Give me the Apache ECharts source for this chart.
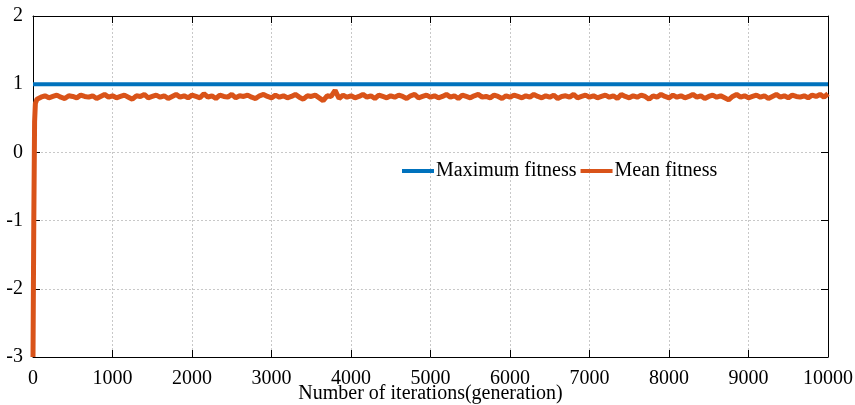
<!DOCTYPE html>
<html>
<head>
<meta charset="utf-8">
<script src="https://cdn.jsdelivr.net/npm/echarts@6/dist/echarts.min.js"></script>
<style>html,body{margin:0;padding:0;background:#fff}#c{width:855px;height:405px}</style>
</head>
<body>
<div id="c"></div>
<script>
// Data
const xTicks = [0,1000,2000,3000,4000,5000,6000,7000,8000,9000,10000];
const yTicks = [-3,-2,-1,0,1,2];
const maxIter = [0, 10000];
const maxFitness = [1, 1];
const startIter = [0, 10, 20, 30];
const startMean = [-3, -1.0, 0.45, 0.72];
const stepIter = 50; // sampling step of the noisy part (iterations 50..10000)
const meanNoisy = [
0.78,0.81,0.83,0.80,0.82,0.84,0.81,0.79,0.83,0.82,
0.80,0.84,0.82,0.81,0.83,0.79,0.82,0.85,0.81,0.83,
0.80,0.82,0.84,0.81,0.78,0.83,0.82,0.85,0.80,0.82,
0.84,0.81,0.83,0.79,0.82,0.85,0.81,0.83,0.80,0.84,
0.82,0.80,0.86,0.81,0.83,0.79,0.84,0.82,0.81,0.85,
0.80,0.83,0.82,0.84,0.81,0.79,0.83,0.85,0.82,0.80,
0.84,0.81,0.83,0.80,0.82,0.85,0.81,0.78,0.83,0.82,
0.84,0.80,0.76,0.83,0.82,0.91,0.79,0.84,0.81,0.83,
0.80,0.82,0.85,0.81,0.83,0.79,0.84,0.82,0.80,0.83,
0.81,0.84,0.82,0.79,0.83,0.85,0.80,0.82,0.84,0.81,
0.83,0.80,0.82,0.85,0.81,0.83,0.79,0.84,0.82,0.80,
0.83,0.85,0.81,0.82,0.80,0.84,0.82,0.79,0.83,0.81,
0.84,0.82,0.80,0.83,0.81,0.85,0.82,0.80,0.83,0.81,
0.84,0.79,0.82,0.83,0.81,0.85,0.80,0.82,0.84,0.81,
0.83,0.80,0.82,0.84,0.81,0.83,0.79,0.85,0.82,0.80,
0.83,0.81,0.84,0.82,0.78,0.83,0.81,0.85,0.82,0.80,
0.84,0.81,0.83,0.80,0.82,0.85,0.81,0.83,0.79,0.82,
0.84,0.81,0.83,0.80,0.77,0.82,0.85,0.81,0.83,0.80,
0.82,0.84,0.81,0.83,0.79,0.82,0.85,0.81,0.83,0.80,
0.84,0.82,0.81,0.83,0.80,0.84,0.82,0.85,0.81,0.86
];

const meanData = startIter.map((x,i)=>[x,startMean[i]])
  .concat(meanNoisy.map((v,i)=>[(i+1)*stepIter, v]));
const maxData = maxIter.map((x,i)=>[x,maxFitness[i]]);

const FONT = '"Times New Roman", "Liberation Serif", serif';
const chart = echarts.init(document.getElementById('c'), null, {renderer:'canvas'});
const gridLine = {show:true, lineStyle:{color:'#c8c8c8', width:1, type:[2,2]}};
chart.setOption({
  animation:false,
  backgroundColor:'#fff',
  grid:{left:33, right:27, top:16, bottom:48, containLabel:false, outerBoundsMode:'none'},
  legend:{
    left:397, top:156, itemGap:4, itemWidth:32, itemHeight:4, icon:'rect',
    textStyle:{fontFamily:FONT, fontSize:20, color:'#000', padding:[0,0,0,-3]},
    data:['Maximum fitness','Mean fitness']
  },
  xAxis:[{
    type:'value', min:0, max:10000, interval:1000,
    axisLine:{show:true, onZero:false, lineStyle:{color:'#000', width:1}},
    axisTick:{show:true, inside:true, length:7, lineStyle:{color:'#000'}},
    axisLabel:{fontFamily:FONT, fontSize:20, color:'#000', margin:12, formatter:v=>String(v)},
    splitLine:gridLine,
    name:'Number of iterations(generation)', nameLocation:'middle', nameGap:27,
    nameMoveOverlap:false,
    nameTextStyle:{fontFamily:FONT, fontSize:20, color:'#000'}
  },{
    type:'value', position:'top', min:0, max:10000, interval:1000,
    axisLine:{show:true, onZero:false, lineStyle:{color:'#000', width:1}},
    axisTick:{show:true, inside:true, length:7, lineStyle:{color:'#000'}},
    axisLabel:{show:false}, splitLine:{show:false}
  }],
  yAxis:[{
    type:'value', min:-3, max:2, interval:1,
    axisLine:{show:true, onZero:false, lineStyle:{color:'#000', width:1}},
    axisTick:{show:true, inside:true, length:7, lineStyle:{color:'#000'}},
    axisLabel:{fontFamily:FONT, fontSize:20, color:'#000', margin:10, formatter:v=>String(v)},
    splitLine:gridLine
  },{
    type:'value', position:'right', min:-3, max:2, interval:1,
    axisLine:{show:true, onZero:false, lineStyle:{color:'#000', width:1}},
    axisTick:{show:true, inside:true, length:7, lineStyle:{color:'#000'}},
    axisLabel:{show:false}, splitLine:{show:false}
  }],
  series:[
    {name:'Maximum fitness', type:'line', data:maxData, showSymbol:false, symbol:'none',
     lineStyle:{color:'#0072BD', width:4}, itemStyle:{color:'#0072BD'}},
    {name:'Mean fitness', type:'line', data:meanData, showSymbol:false, symbol:'none',
     lineStyle:{color:'#D95319', width:5}, itemStyle:{color:'#D95319'}}
  ]
});
</script>
</body>
</html>
